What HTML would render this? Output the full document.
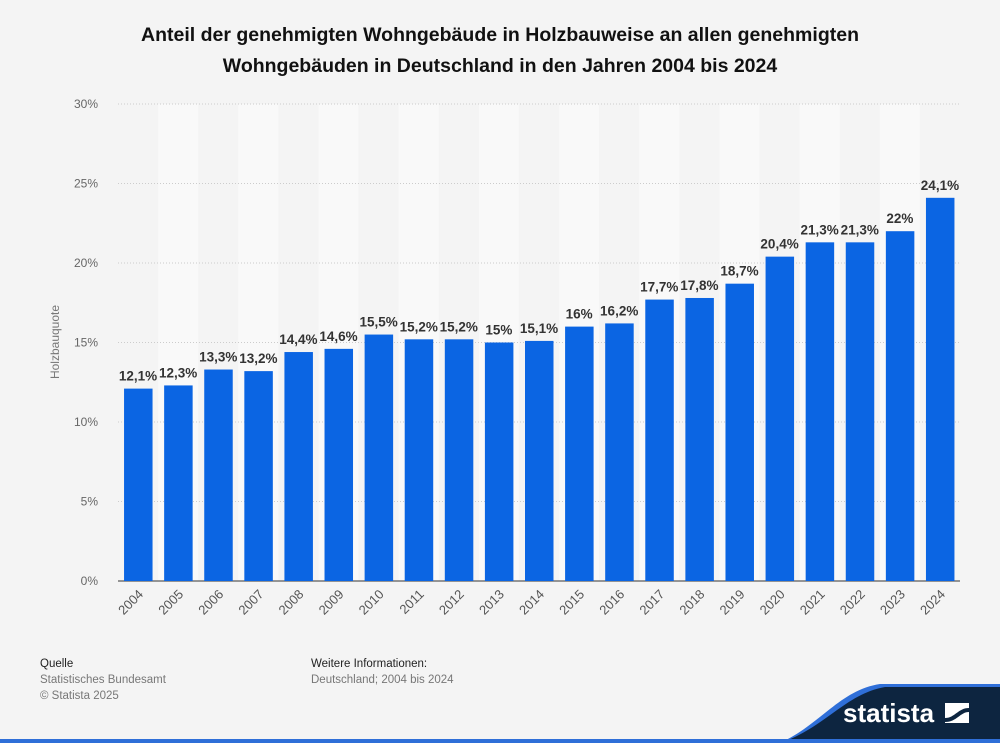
<!DOCTYPE html>
<html><head><meta charset="utf-8"><style>
body{margin:0;width:1000px;height:743px;background:#f4f4f4;font-family:"Liberation Sans",sans-serif;overflow:hidden;position:relative}
.t{position:absolute;left:0;width:1000px;text-align:center;top:20px;font-size:19.5px;font-weight:bold;color:#111;line-height:31px}
.f{position:absolute;font-size:11.5px;color:#777;line-height:16px}
.f b{color:#222;font-weight:normal}
</style></head><body>
<div class="t">Anteil der genehmigten Wohngebäude in Holzbauweise an allen genehmigten<br>Wohngebäuden in Deutschland in den Jahren 2004 bis 2024</div>
<svg id="c" width="1000" height="743" style="position:absolute;left:0;top:0"></svg>
<div class="f" style="left:40px;top:656px"><b>Quelle</b><br>Statistisches Bundesamt<br>© Statista 2025</div>
<div class="f" style="left:311px;top:656px"><b>Weitere Informationen:</b><br>Deutschland; 2004 bis 2024</div>
<svg width="1000" height="743" style="position:absolute;left:0;top:0">
<path d="M780,743 C820,725 840,690 880,684 L1000,684 L1000,743Z" fill="#2f6fd8"/>
<path d="M780,743 C825,728 845,694 885,687 L1000,687 L1000,743Z" fill="#0d2540"/>
<rect x="0" y="739" width="1000" height="4" fill="#2f6fd8"/>
<text x="843" y="722" font-size="26" font-weight="bold" fill="#fff" font-family="Liberation Sans, sans-serif">statista</text>
<rect x="945" y="703" width="24" height="20" fill="#fff"/>
<path d="M945,718 C955,718 958,708 969,708 L969,712 C960,712 957,722 945,722Z" fill="#0d2540"/>
</svg>
<script>
const categories=["2004","2005","2006","2007","2008","2009","2010","2011","2012","2013","2014","2015","2016","2017","2018","2019","2020","2021","2022","2023","2024"];
const values=[12.1,12.3,13.3,13.2,14.4,14.6,15.5,15.2,15.2,15,15.1,16,16.2,17.7,17.8,18.7,20.4,21.3,21.3,22,24.1];
const yTicks=[0,5,10,15,20,25,30];
const yTickLabels=["0%","5%","10%","15%","20%","25%","30%"];
const svg=document.getElementById('c');
const NS='http://www.w3.org/2000/svg';
const x0=118,x1=960,y0=581,y1=104,ymax=30;
const bw=(x1-x0)/categories.length;
const X=i=>x0+bw*i;
const Y=v=>y0-(v/ymax)*(y0-y1);
function mk(t,a){const e=document.createElementNS(NS,t);for(const k in a)e.setAttribute(k,a[k]);svg.appendChild(e);return e;}
categories.forEach((c,i)=>{if(i%2==1){const r=mk('rect',{x:X(i),y:y1,width:bw,height:y0-y1,fill:'#f9f9f9'});

}});
yTicks.forEach((v,i)=>{
 if(v>0){const l=mk('line',{x1:x0,x2:x1,y1:Y(v),y2:Y(v),stroke:'#ccc','stroke-dasharray':'1,2'});
 
 }
 const t=mk('text',{x:98,y:Y(v)+4,'text-anchor':'end','font-size':12,fill:'#666'});t.textContent=yTickLabels[i];
 
 
});
const ax=mk('line',{x1:x0,x2:x1,y1:y0,y2:y0,stroke:'#333','stroke-width':1});


const yt=mk('text',{x:59,y:342,'text-anchor':'middle','font-size':12,fill:'#777',transform:'rotate(-90 59 342)'});yt.textContent='Holzbauquote';


values.forEach((v,i)=>{
 const cx=X(i)+bw/2;
 const b=mk('rect',{x:cx-14,y:Y(v),width:28.5,height:y0-Y(v),fill:'#0b65e3'});
 
 
 const t=mk('text',{x:cx,y:Y(v)-8,'text-anchor':'middle','font-size':13.5,'font-weight':'bold',fill:'#333'});
 t.textContent=String(v).replace('.',',')+'%';
 
 
 const l=mk('text',{x:cx+6,y:y0+14,'text-anchor':'end','font-size':13,fill:'#555',transform:`rotate(-45 ${cx+6} ${y0+14})`});
 l.textContent=categories[i];
 
 
});
</script>
</body></html>
